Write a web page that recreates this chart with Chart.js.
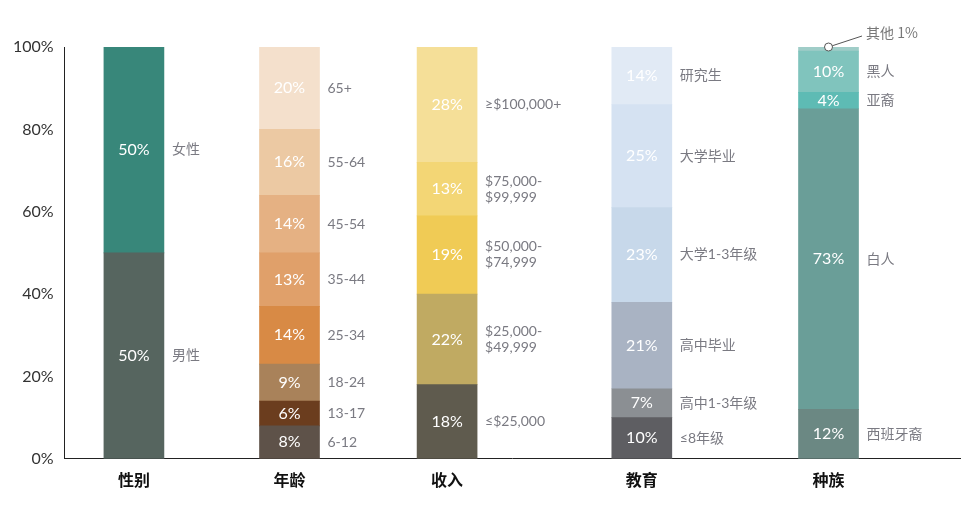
<!DOCTYPE html>
<html>
<head>
<meta charset="UTF-8">
<script src="https://cdn.jsdelivr.net/npm/chart.js@4/dist/chart.umd.min.js"></script>
<style>
  body { margin: 0; background: #fff; }
  #wrap { width: 980px; height: 519px; }
</style>
</head>
<body>
<div id="wrap"><canvas id="chart"></canvas></div>
<script>
// groups on the x axis and where they sit
var groups = ['性别', '年龄', '收入', '教育', '种族'];
var groupPos = [69, 224, 381, 575, 761];

// segments per group, bottom to top
var genderNames = ['男性', '女性'];
var genderVals = [50, 50];
var genderColors = ['#56655f', '#38877a'];

var ageNames = ['6-12', '13-17', '18-24', '25-34', '35-44', '45-54', '55-64', '65+'];
var ageVals = [8, 6, 9, 14, 13, 14, 16, 20];
var ageColors = ['#5e5249', '#6b3d1e', '#a9825a', '#d88a45', '#e0a06a', '#e5b183', '#ecc9a3', '#f4e0cc'];

var incomeNames = ['≤$25,000', '$25,000-\n$49,999', '$50,000-\n$74,999', '$75,000-\n$99,999', '≥$100,000+'];
var incomeVals = [18, 22, 19, 13, 28];
var incomeColors = ['#5f5b4e', '#c0aa62', '#f0cb55', '#f3d675', '#f5df98'];

var eduNames = ['≤8年级', '高中1-3年级', '高中毕业', '大学1-3年级', '大学毕业', '研究生'];
var eduVals = [10, 7, 21, 23, 25, 14];
var eduColors = ['#5e5e62', '#8b8f93', '#a9b3c3', '#c7d8ea', '#d5e2f2', '#e1eaf5'];

var raceNames = ['西班牙裔', '白人', '亚裔', '黑人', '其他'];
var raceVals = [12, 73, 4, 10, 1];
var raceColors = ['#6b8883', '#6a9e98', '#5ebbb4', '#80c4bd', '#a0cdc8'];

var yTicks = [0, 20, 40, 60, 80, 100];

var sets = [
  [genderNames, genderVals, genderColors],
  [ageNames, ageVals, ageColors],
  [incomeNames, incomeVals, incomeColors],
  [eduNames, eduVals, eduColors],
  [raceNames, raceVals, raceColors]
];

var datasets = [];
sets.forEach(function (s, g) {
  s[1].forEach(function (v, i) {
    datasets.push({
      label: s[0][i],
      data: [{ x: groupPos[g], y: v }],
      backgroundColor: s[2][i],
      stack: 'a',
      barThickness: 60,
      group: g
    });
  });
});

var labelPlugin = {
  id: 'segLabels',
  afterDatasetsDraw: function (chart) {
    var ctx = chart.ctx;
    ctx.save();
    chart.data.datasets.forEach(function (ds, di) {
      var el = chart.getDatasetMeta(di).data[0];
      var v = ds.data[0].y;
      var cy = (el.y + el.base) / 2;
      var right = el.x + el.width / 2;
      if (ds.label === '其他') {
        ctx.strokeStyle = '#555';
        ctx.lineWidth = 1;
        ctx.beginPath();
        ctx.moveTo(el.x, el.y);
        ctx.lineTo(862, 36);
        ctx.stroke();
        ctx.fillStyle = '#fff';
        ctx.beginPath();
        ctx.arc(el.x, el.y, 4, 0, Math.PI * 2);
        ctx.fill();
        ctx.stroke();
        ctx.fillStyle = '#777';
        ctx.font = '14px "Noto Sans CJK SC", Lato, sans-serif';
        ctx.textAlign = 'left';
        ctx.textBaseline = 'middle';
        ctx.fillText('其他 1%', 866, 33);
        return;
      }
      ctx.fillStyle = '#fff';
      ctx.font = '16px Lato, "Noto Sans CJK SC", sans-serif';
      ctx.textAlign = 'center';
      ctx.textBaseline = 'middle';
      ctx.fillText(v + '%', el.x, cy);
      ctx.fillStyle = '#7a7a82';
      ctx.font = '14px Lato, "Noto Sans CJK SC", sans-serif';
      ctx.textAlign = 'left';
      var lines = ds.label.split('\n');
      lines.forEach(function (t, k) {
        ctx.fillText(t, right + 8, cy + (k - (lines.length - 1) / 2) * 16);
      });
    });
    ctx.restore();
  }
};

new Chart(document.getElementById('chart'), {
  type: 'bar',
  data: { datasets: datasets },
  options: {
    responsive: true,
    maintainAspectRatio: false,
    animation: false,
    layout: { padding: { top: 47, right: 20, left: 10, bottom: 17 } },
    plugins: { legend: { display: false }, tooltip: { enabled: false } },
    scales: {
      x: {
        type: 'linear',
        min: 0,
        max: 892,
        offset: false,
        stacked: true,
        grid: { display: false, drawTicks: false, offset: false },
        border: { color: '#222', width: 1 },
        afterBuildTicks: function (axis) {
          axis.ticks = groupPos.map(function (p) { return { value: p }; });
        },
        ticks: {
          padding: 12,
          color: '#111',
          font: { size: 16, weight: 'bold', family: '"Noto Sans CJK SC", sans-serif' },
          callback: function (v) { return groups[groupPos.indexOf(v)]; }
        }
      },
      y: {
        stacked: true,
        min: 0,
        max: 100,
        grid: { display: false, drawTicks: true, tickLength: 8, tickColor: '#222' },
        border: { color: '#222', width: 1 },
        afterBuildTicks: function (axis) {
          axis.ticks = yTicks.map(function (t) { return { value: t }; });
        },
        ticks: {
          color: '#333',
          font: { size: 16, family: 'Lato, sans-serif' },
          callback: function (v) { return v + '%'; }
        }
      }
    }
  },
  plugins: [labelPlugin]
});
</script>
</body>
</html>
